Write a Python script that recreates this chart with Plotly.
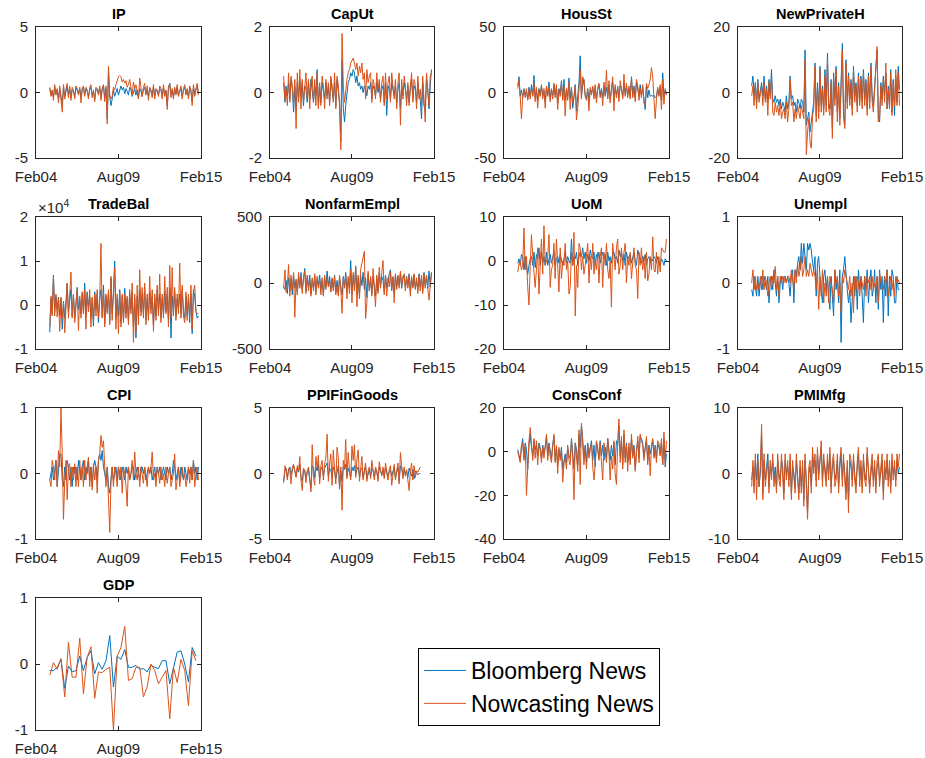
import pandas as pd
import plotly.graph_objects as go

# ---------------- data ----------------
panel_names = ["IP", "CapUt", "HousSt", "NewPrivateH", "TradeBal", "NonfarmEmpl",
               "UoM", "Unempl", "CPI", "PPIFinGoods", "ConsConf", "PMIMfg", "GDP"]
series_names = ["Bloomberg News", "Nowcasting News"]
x_tick_dates = ["2004-02-01", "2009-08-01", "2015-02-01"]
x_tick_labels = ["Feb04", "Aug09", "Feb15"]

IP_bloomberg = [0.3,-0.2,0.1,-0.3,0.4,-0.1,0.2,-0.5,0.3,-0.2,
 -0.9,0.4,-0.3,0.1,0.5,-0.2,0.3,-0.4,0.2,0.1,
 -0.3,0.4,0.2,-0.1,0.3,-0.4,0.2,0.4,-0.2,0.3,
 0.1,-0.3,0.2,0.4,-0.2,0.1,-0.5,0.3,0.2,-0.1,
 0.4,-0.3,0.2,0.5,-0.4,0.3,-2.0,1.6,-0.4,-1.0,
 -0.5,0.2,-0.3,0.1,0.3,-0.2,0.3,0.5,0.2,0.4,
 -0.1,0.3,0.1,-0.2,0.4,0.2,-0.3,0.1,0.3,-0.2,
 0.2,-0.4,0.3,0.1,-0.3,0.2,0.4,-0.1,0.2,-0.3,
 0.3,0.1,-0.2,0.4,-0.3,0.2,0.1,-0.2,0.3,0.2,
 -0.3,0.4,-0.2,0.1,-1.0,0.3,0.7,-0.2,0.2,-0.3,
 0.3,-0.1,0.4,-0.2,0.1,0.3,-0.3,0.2,0.4,-0.1,
 0.2,-0.3,0.3,0.1,-0.7,0.4,-0.2,0.3,0.5,-0.1]
IP_nowcast = [0.4,-0.3,0.2,-0.6,0.6,-0.2,0.3,-0.8,0.5,-0.4,
 -1.5,0.6,-0.5,0.3,0.7,-0.4,0.5,-0.6,0.4,0.2,
 -0.5,0.5,0.3,-0.2,0.4,-0.8,0.3,0.5,-0.3,0.4,
 0.2,-0.5,0.4,0.6,-0.4,0.2,-0.7,0.4,0.3,-0.2,
 0.5,-0.6,0.3,0.6,-0.7,0.5,-2.4,2.0,-0.2,-0.5,
 -0.3,0.4,0.2,0.6,0.9,1.2,1.3,1.2,0.8,1.0,
 0.7,0.9,0.4,0.6,1.0,0.5,-0.2,0.8,0.3,0.6,
 0.1,-0.5,1.1,0.2,-0.3,0.4,0.7,-0.2,0.5,-0.6,
 0.4,0.2,-0.4,0.6,-0.5,0.3,0.2,-0.3,0.5,0.3,
 -0.5,0.6,-0.3,0.2,-1.3,0.5,0.6,-0.4,0.3,-0.5,
 0.4,-0.2,0.6,-0.3,0.2,0.5,-0.5,0.3,0.6,-0.2,
 0.3,-0.5,0.5,0.2,-1.0,0.6,-0.3,0.4,0.7,-0.2]

CapUt_bloomberg = [0.3,-0.3,0.2,-0.1,0.3,-0.2,0.4,0.1,-0.6,0.2,
 -0.5,0.3,-0.2,0.4,-0.1,0.3,-0.4,0.2,0.1,-0.3,
 0.3,-0.2,0.4,0.1,-0.3,0.2,-0.1,0.7,-0.4,0.2,
 -0.3,0.3,0.1,-0.2,0.3,-0.1,0.2,-0.3,0.4,0.1,
 -0.2,0.3,-0.4,0.4,0.1,-0.3,-1.5,1.0,-0.5,-0.9,
 -0.4,0.1,0.3,0.4,0.6,0.5,0.7,0.6,0.3,0.5,
 0.2,0.3,0.1,0.2,0.0,0.2,0.1,-0.1,0.2,0.1,
 0.3,-0.2,0.2,0.1,-0.1,0.3,0.0,0.2,-0.2,0.1,
 0.2,-0.3,0.3,-0.7,0.2,0.1,-0.2,0.3,0.1,-0.1,
 0.2,-0.3,0.1,0.3,-0.5,0.2,-0.1,0.3,0.1,-0.2,
 0.2,-0.3,0.1,0.4,-0.2,0.2,0.1,-0.3,0.3,-0.1,
 -0.2,-0.8,0.3,-0.4,-0.5,0.4,0.1,-0.5,0.2,0.7]
CapUt_nowcast = [0.5,-0.2,0.1,-0.4,0.6,-0.3,0.5,0.2,-0.3,0.4,
 -1.1,0.6,-0.3,0.7,-0.5,0.4,-0.3,0.3,0.6,-0.2,
 0.4,-0.5,0.3,0.5,-0.3,0.4,-0.4,0.6,-0.5,0.3,
 -0.4,0.5,0.2,-0.5,0.4,-0.2,0.3,-0.4,0.5,0.2,
 -0.3,0.6,-0.5,0.5,0.2,-0.4,-1.75,1.8,0.2,-0.3,
 0.1,0.4,0.6,0.7,0.9,1.0,1.05,0.9,0.7,0.9,
 0.5,0.8,0.6,0.9,0.4,0.6,-0.2,0.7,0.3,0.5,
 0.6,-0.3,0.4,0.2,-0.2,0.6,0.1,0.4,-0.3,0.3,
 0.5,-0.4,0.6,-0.2,0.3,0.5,-0.3,0.6,0.2,-0.2,
 0.4,-0.5,0.3,0.6,-1.0,0.4,-0.2,0.5,0.2,-0.4,
 0.3,-0.4,0.2,0.6,-0.3,0.4,0.2,-0.5,0.5,-0.2,
 0.1,-0.4,0.5,-0.2,-0.9,0.6,0.2,-0.4,0.5,0.6]

HousSt_bloomberg = [5,12,-3,2,-4,3,-2,1,-5,4,
 -3,6,-2,13,-4,2,-6,3,-2,5,
 -3,1,-7,4,-2,8,-5,2,-3,6,
 -2,4,-8,3,-1,9,-4,10,-6,2,
 -3,11,-5,4,-12,-2,6,-14,-5,8,
 28,-3,5,10,-2,-4,3,-6,2,0,
 3,-3,4,-5,2,6,-2,3,-4,5,
 -2,4,-3,6,-5,2,8,-3,4,-2,
 3,-4,5,2,-3,6,-1,4,-2,3,
 -3,12,-2,5,-4,8,3,-3,6,-2,
 4,-6,-13,5,-4,2,-3,-2,-3,-2,
 -4,-3,3,-2,4,-6,15,-3,2,-1]
HousSt_nowcast = [3,9,-2,-20,-3,2,-4,3,-6,2,
 -5,4,-3,7,-7,4,-12,2,-3,6,
 -5,3,-12,5,-3,4,-7,3,-5,7,
 -4,6,-13,2,-3,7,-6,5,-18,3,
 -6,8,-13,3,-8,-4,5,-21,-12,10,
 17,-5,12,9,-3,-6,2,-14,4,-2,
 5,-5,6,-8,3,7,-4,2,-10,8,
 -3,17,-5,9,-8,3,12,-14,6,-4,
 5,-7,9,3,-5,14,-3,7,-4,5,
 -5,11,-4,3,-7,10,5,-6,3,-4,
 6,-8,-10,7,3,6,10,19,12,-5,
 -20,-6,4,-3,6,-13,10,-9,3,-2]

NewPrivateH_bloomberg = [2,5,-1,3,-3,4,-2,1,3,-1,
 5,-2,2,-3,4,-1,7,-2,-3,-1,
 -3,-2,-4,-2,-5,-3,-4,-6,-1,-5,
 -3,5,-2,-1,-4,-3,-6,-2,-3,-5,
 -2,-3,-6,13,-10,-8,-6,-12,-9,-5,
 -3,9,-7,3,-6,8,-4,2,-5,7,
 -4,12,-3,-5,4,-11,6,-2,8,-6,
 3,-8,5,15,-6,-10,10,-3,6,-2,
 4,-5,8,-1,3,-4,6,-2,5,-3,
 7,-2,4,-5,6,-3,9,-1,-4,2,
 6,13,-8,-9,3,-2,5,-1,6,-5,
 2,-4,7,-6,4,-7,5,-3,8,1]
NewPrivateH_nowcast = [-1,2,-4,3,-5,3,-3,0,2,-4,
 3,-3,1,-7,3,-2,5,-6,-7,-3,
 -6,-4,-7,-3,-8,-6,-5,-8,-3,-9,
 -5,4,-4,-3,-9,-5,-8,-4,-6,-8,
 -4,-6,-8,10,-19,-12,-8,-15,-17,-7,
 -5,8,-9,2,-8,7,-6,1,-7,5,
 -6,10,-5,-7,3,-14,5,-4,7,-9,
 2,-10,4,13,-7,-11,9,-5,5,-4,
 3,-7,7,-3,2,-6,5,-4,4,-5,
 6,-4,3,-7,5,-5,8,-3,-6,1,
 5,14,-9,-8,2,-4,4,-3,9,-5,
 1,-5,6,-7,3,-4,7,-4,6,-4]

TradeBal_bloomberg = [-6200,1500,-2000,6800,-1500,2000,-1000,1800,-2500,1500,
 -5500,800,-3000,2500,4800,-1500,1000,3500,-2500,2200,
 -3000,1800,4000,-1000,1500,-2000,2500,-1500,5000,-2000,
 3000,-500,2000,-3000,1500,-4800,3000,-1000,2500,-4000,
 1500,3500,-2500,4500,-4200,2000,-1500,3000,-3500,6000,
 -2000,2500,10000,-3000,1500,-2500,3500,-4000,2000,-3500,
 3800,-2000,1500,-3500,2500,-1000,3000,-5000,1500,-7500,
 2000,-3000,3500,-1500,2500,-2000,4000,-3500,1500,-2500,
 3000,-1000,2000,-4500,1800,-2500,3500,-1500,2500,-3000,
 1500,-2000,3000,-1500,2500,-3500,4000,-7500,2000,-1500,
 3000,-2500,1500,-1000,2500,-2000,3500,-1500,-3000,2000,
 -2500,1500,-4000,2500,-6500,3500,2000,-1500,-3000,-2500]
TradeBal_nowcast = [-5000,2000,-2500,6500,-2500,2500,-2700,1500,-6000,1800,
 -3000,500,-6300,2000,5000,-3000,1500,7500,-3000,2500,
 -4000,1000,3500,-5800,2000,-3000,3000,-2000,3500,-5500,
 2500,-1500,3500,-5000,1800,-4000,2500,-2500,3500,-3000,
 1000,14000,-3000,3000,-5000,2500,-2000,3500,-4500,6500,
 -3500,3000,8500,-5500,2500,-6500,3000,-5000,2500,-4000,
 2500,-3000,2000,-4500,3500,-2000,5000,-8500,2500,-6000,
 4500,-4500,8000,-2500,4000,-3000,5000,-4500,2500,-3500,
 6500,-2000,3500,-6000,2500,-3500,4500,-2500,7000,-4000,
 2500,-3000,6500,-2000,4000,-5000,9000,-3000,8500,-2500,
 4000,-3500,2500,-2000,9500,-3000,4500,-2500,-4000,3000,
 -3500,2500,-3000,4500,-5500,3000,4500,-1500,-2000,-2000]

NonfarmEmpl_bloomberg = [-30,-50,20,-80,40,-60,30,-90,60,-40,
 20,-70,50,-20,80,-50,30,110,-60,40,
 -30,60,-80,20,-40,50,-70,30,-20,60,
 -50,20,-90,40,-30,90,-20,50,-60,30,
 -40,60,-70,20,-80,40,-30,-90,50,-20,
 80,-60,30,-40,170,-80,60,-30,120,-70,
 40,-90,60,-20,80,-50,40,-110,70,-60,
 30,-80,50,-40,-100,40,-60,80,-30,50,
 20,-70,60,-40,30,70,100,-50,40,-80,
 60,-30,50,-20,80,-40,30,60,-30,50,
 -20,70,-60,40,-30,60,-40,20,-50,70,
 -30,40,-60,80,-20,50,-40,90,-30,80]
NonfarmEmpl_nowcast = [-40,100,-70,-20,140,-100,60,-50,80,-260,
 30,-90,80,-40,50,-80,40,90,-80,60,
 -60,30,-100,40,-60,70,-90,50,-40,30,
 -90,40,-100,60,-50,40,-30,20,-70,40,
 -60,50,-90,-20,-100,60,-50,-230,40,-40,
 60,-120,50,-80,100,-150,80,-60,130,-180,
 60,-120,100,150,200,240,-270,-150,90,-60,
 50,-100,110,-70,-180,60,-80,120,-40,80,
 170,-90,60,-100,40,-30,80,-60,50,-150,
 70,-50,60,-40,90,-30,50,70,-60,40,
 -40,60,-100,50,-40,70,-50,40,-80,60,
 -60,60,-80,70,-40,60,-50,-130,-20,80]

UoM_bloomberg = [-0.5,0.5,-1,1.5,1,-2,1,-1.5,-3,-1,
 0.5,1,-1,2,-1.5,1.5,0.5,3,-1,2,
 -0.5,1,-1,2,-1,0.5,1.5,-0.5,1,2,
 -1,0.5,1,-0.5,1.5,0,-1,0.5,2,-0.5,
 1,0,-0.5,5,-1,1,0.5,2,-1,1,
 2,1,3,0.5,2,-0.5,1.5,0,2.5,1,
 0.5,2,-1,1.5,0.5,2,-0.5,1,2,0.5,
 1.5,-1,2,0,1,-0.5,1.5,2,0.5,1,
 -0.5,2.5,1,2,0,1.5,-1,2,0.5,1,
 1.5,-0.5,1,2,0,-1,2.5,1,0.5,-0.5,
 1,0,1.5,-1,0.5,1,-0.5,0.5,0,1,
 0.5,-0.5,1,0,-1,0.5,0,-1,0.5,0]
UoM_nowcast = [-2.5,-0.5,0,-2,-1,7.5,-2,1,-6,-10,
 -1,6,1,-3,-6,-2,3,-7.5,0,5,
 -3,8,-1,0,1,6,-6,-2,-1,4,
 -4,5,-1,-7,3,-4,0,-1,4,-2,
 0,-7.5,-6,2,-1,6.5,-12.5,-1,-6,4,
 3,-2,1,-3,-1,2,4,-5,1,-2,
 4,-3,0,-2,2,-5,1,3,-6,2,
 -1,4,-2,-4,0,-10.5,4,1,-2,3,
 5,-3,-1,3,-2,2,4,-5,1,-1,
 2,-4,1,3,-1,-2,-8.5,2,-1,3,
 -2,1,-4,2,-4.5,-3,1,-2,5.5,-2,
 -2.5,2,-3,1,-2.5,3,2.5,2,2,5]

Unempl_bloomberg = [-0.1,-0.2,0.1,-0.1,-0.2,0.1,-0.2,0,0.1,-0.1,
 0.1,0,-0.1,0.1,-0.3,0,0.1,-0.1,0.2,0,
 -0.2,0.1,-0.3,0,0.1,-0.1,0.1,0.1,0,0.1,
 0,-0.2,0.1,0.2,-0.3,0.2,0.1,0.3,0.4,0.2,
 0.6,0.3,0.6,0.4,0.2,0.6,0.5,0.6,0.5,0.3,
 0.2,0.4,-0.2,0.3,0.4,0.1,-0.1,-0.3,0.1,0.2,
 -0.1,0.1,-0.2,-0.4,0.1,-0.2,-0.5,0.2,-0.1,0.1,
 -0.3,0.2,-0.9,0.1,0.2,0.4,0.1,-0.1,-0.3,-0.1,
 -0.6,-0.2,0.1,-0.2,0.1,-0.4,0.2,-0.1,0.1,-0.2,
 -0.6,0.1,-0.1,0.2,-0.3,0,0.2,-0.2,-0.1,0.2,
 -0.3,0.1,-0.4,0.2,-0.1,0.1,-0.6,0.1,-0.2,0.2,
 -0.5,0.1,-0.2,0.2,0.1,-0.3,-0.3,0.1,-0.1,-0.1]
Unempl_nowcast = [0,0.2,-0.1,0.1,-0.1,0,-0.1,0.1,-0.1,0.2,
 -0.1,0.1,0,-0.2,0,0.1,-0.1,0.1,0,0.25,
 -0.1,0.1,-0.2,0.1,0,0.1,0,0.1,0,0.1,
 0.1,0,0.2,0,-0.1,0.2,0,0.3,0.1,0.2,
 0.4,0.1,0.2,0.4,0.1,0.2,0.1,0.3,0.2,0.1,
 0.2,0.1,-0.1,0.2,-0.4,0.1,-0.2,0.2,-0.3,0,
 -0.2,0.1,-0.3,0.1,0,-0.1,-0.3,0.2,0,0.1,
 -0.2,0,-0.45,0.1,0,0.2,0.1,0,-0.1,0.1,
 -0.2,0,-0.45,0.1,-0.1,0.1,0,-0.2,0.1,0,
 -0.1,0.1,-0.2,0.1,0,0.1,-0.1,0.1,-0.1,0,
 -0.1,0.1,-0.3,0.15,0,-0.1,-0.1,0.1,0,0.2,
 -0.2,0,0.1,-0.1,0.05,-0.2,0.1,0,0.05,0]

CPI_bloomberg = [-0.1,0,0.1,-0.1,0.1,0.2,-0.2,0.1,0.3,0.3,
 -0.1,-0.2,0.1,-0.1,0.2,0.1,-0.1,0.1,-0.2,0.1,
 0,0.1,-0.1,0.2,0,-0.1,0.1,0.2,-0.1,0.1,
 0,0.2,-0.1,0.1,-0.2,0.1,0.2,0.1,-0.1,0.2,
 0.3,0.2,0.35,0.1,0,-0.1,0.1,-0.2,-0.3,-0.1,
 0.1,-0.1,0,0.1,-0.1,0.1,0,-0.1,0.1,0,
 -0.1,0.1,0,0.1,-0.1,0,0.1,0.1,-0.1,0,
 0.1,0,-0.1,0.1,0.1,0,0.1,-0.1,0,0.1,
 0,0.1,-0.1,0,0.1,-0.1,0.1,0,0.1,-0.1,
 0,0.1,0,-0.1,0.1,0,0.1,-0.1,0,0.2,
 0.1,-0.1,0,0.1,-0.1,0.1,0,-0.1,0.1,0,
 -0.1,0.1,0,0.1,-0.1,0.2,0,0.1,-0.1,0.1]
CPI_nowcast = [-0.1,-0.2,0.2,0.1,-0.1,0.2,-0.2,0.35,0.1,1.0,
 0.3,-0.7,-0.1,0.2,-0.4,0.1,0.15,-0.2,0.1,-0.1,
 0.15,-0.2,0.1,-0.2,0.2,-0.1,0.1,-0.2,0.2,-0.1,
 0.1,0.25,-0.2,0.1,-0.25,0.15,-0.1,0.1,-0.3,0.2,
 0.3,0.58,0.4,0.5,0.1,-0.2,0.1,-0.3,-0.9,-0.1,
 0.1,-0.2,0.1,0,-0.2,0.1,-0.1,0.1,-0.3,0.1,
 0,-0.2,-0.5,0.1,-0.1,0,0.2,-0.1,0.33,0,
 -0.1,0.1,-0.2,0.1,0,-0.15,0.1,-0.1,-0.2,0.1,
 0,0.1,0.33,-0.1,0,-0.2,0.1,0,-0.15,0.1,
 -0.1,0,-0.2,0.1,-0.15,0,0.1,-0.2,-0.1,0,
 0.3,-0.25,-0.1,0.1,-0.2,0,0.1,-0.1,0,-0.2,
 -0.1,0.1,-0.15,0.1,-0.1,0.2,-0.2,0,0.1,-0.1]

PPIFinGoods_bloomberg = [-0.6,0.2,0.4,-0.3,0.2,0.5,-0.1,0.3,0.6,0.2,
 -0.2,0.4,0.1,0.7,-0.3,-0.6,0.3,0.2,-0.4,0.1,
 0.3,-0.5,-1.1,0.6,0.4,-0.3,0.5,0.2,0.7,-0.4,
 0.3,0.5,-0.2,0.4,0.6,0.8,-0.2,0.4,0.3,-0.3,
 0.5,0.2,-0.4,0.3,0.6,-1.1,0.2,-0.6,0.5,0.3,
 0.7,-0.2,0.4,0.1,-0.3,0.5,0.2,0.6,-0.1,0.3,
 0.5,-0.2,0.3,0.4,-0.3,0.2,0.5,-0.4,0.1,0.3,
 -0.2,0.4,0.2,-0.3,0.3,0.1,-0.4,0.5,0.2,-0.1,
 0.3,-0.2,0.4,0.1,-0.3,0.2,0.3,-0.2,0.1,0.5,
 -0.3,0.2,0.5,-0.6,0.6,0.4,-0.2,0.3,-0.1,0.2,
 -0.3,0.4,0.1,-0.2,0.3,-0.4,0.2,0.1,-0.1,0.0,
 0.0]
PPIFinGoods_nowcast = [-0.7,0.6,0.3,-0.5,0.4,0.3,-0.8,0.5,0.7,0.1,
 -0.3,0.6,0.2,1.3,-0.5,-1.3,0.4,0.3,-0.7,0.2,
 0.5,-0.4,-1.4,2.2,-0.3,-0.9,1.3,0.4,1.4,-0.8,
 0.6,1.0,-0.5,0.7,1.2,3.0,-0.6,0.8,1.5,-0.9,
 1.8,0.3,-0.8,2.0,1.2,-1.2,0.5,-2.8,1.0,0.4,
 2.6,-0.4,1.6,0.3,-0.5,2.1,1.0,2.2,-0.3,1.1,
 1.8,-0.6,0.4,1.3,-0.5,0.3,0.8,-0.6,0.2,0.5,
 -0.4,1.0,0.4,-0.5,0.5,0.2,-0.6,0.9,0.3,-0.2,
 0.5,-0.4,0.8,0.2,-0.5,0.3,0.6,-0.9,0.2,0.7,
 -0.5,0.3,0.8,-0.8,1.6,0.6,-0.4,0.5,-0.2,0.3,
 -0.5,-1.3,0.2,0.8,-0.5,0.6,-0.3,0.2,0.1,0.3,
 0.5]

ConsConf_bloomberg = [1,-1,-4,2,6,-3,4,1,-8,3,
 8,2,-2,5,1,3,-2,4,2,-3,
 3,-1,2,7,-2,4,1,-3,3,7,
 -4,2,-6,1,-3,2,-8,-3,-1,-5,
 2,-2,-3,6,-1,-8,4,1,-6,8,
 2,12,6,-3,3,-5,4,-1,2,5,
 -4,3,-7,4,1,-3,5,-2,3,-4,
 2,-3,6,1,-4,3,-2,4,-6,5,
 3,12,-2,5,-6,8,-3,4,-5,2,
 -4,6,-2,3,-8,1,5,-3,7,6,
 4,-2,2,5,-4,3,-1,2,5,-2,
 3,-3,4,2,-1,4,-6,6,-7,-1]
ConsConf_nowcast = [0,-2,-5,3,4,-4,3,-20,-2,5,
 11,3,-4,6,-3,5,-6,3,1,-5,
 2,-3,4,8,-4,3,-2,-5,2,8,
 -5,3,-10,2,-4,1,-14,-5,-3,-8,
 3,-4,-6,5,-3,-22,4,-2,-9,10,
 -15,13,5,-6,2,-8,3,-3,1,4,
 -7,-13,-6,5,2,-4,4,-4,-13,4,
 -2,-5,6,-1,-13,-2,-8,5,-10,-15,
 4,15,-5,7,-8,10,-5,3,-9,4,
 -6,8,-3,2,-9,0,7,-5,8,5,
 3,-4,1,7,-6,2,-11,3,6,-3,
 2,-5,5,4,-2,6,-6,9,-5,5]

PMIMfg_bloomberg = [-1,1,-2,2,-1,3,-2,0,6,-3,
 2,-1,1,3,-2,1,0,2,-1,1,
 -2,2,0,-1,2,1,-3,2,0,1,
 -1,2,-3,1,0,-2,2,-1,-3,1,
 -2,1,-4,2,-1,-6,0,1,-2,3,
 1,2,-1,3,0,2,4,-1,2,1,
 -1,2,0,3,-2,1,2,-1,0,2,
 -2,1,3,-1,2,0,-3,1,-4,2,
 1,-1,2,0,-2,1,3,-1,1,-2,
 2,0,-1,3,1,-2,0,2,-1,1,
 -2,1,2,-1,0,2,-3,1,0,2,
 -1,1,-2,2,0,1,-1,2,0,1]
PMIMfg_nowcast = [-2,2,-3,3,-4,2,-2,1,7.5,-4,
 3,-2,0,2,-3,2,-1,3,-2,0,
 -3,3,-1,-2,3,0,-4,3,-1,2,
 -2,3,-4,2,-1,-3,3,-2,-4,2,
 -3,2,-5,3,-2,-7,1,2,-3,4,
 0,3,-2,4,-1,3,5,-2,3,0,
 -2,3,-1,4,-3,2,3,-2,-1,3,
 -3,2,4,-2,3,-1,-4,2,-6,3,
 2,-2,3,-1,-3,2,4,-2,2,-3,
 3,-1,-2,4,0,-3,1,3,-2,2,
 -3,2,3,-2,1,3,-4,2,-1,3,
 -2,2,-3,3,-1,2,-2,3,1,3]

GDP_bloomberg = [-0.1,-0.1,-0.05,0.07,-0.37,-0.03,-0.12,-0.1,0.12,-0.1,
 0.1,0.2,-0.15,0.02,-0.08,0.05,0.43,-0.35,0.12,0.07,
 0.22,-0.05,-0.05,-0.02,-0.08,-0.07,-0.12,-0.02,-0.05,-0.07,
 0.05,0.05,-0.3,-0.05,0.18,0.2,0.0,-0.27,0.25,0.12]
GDP_nowcast = [-0.17,0.02,-0.08,0.08,-0.5,0.33,-0.2,-0.2,0.39,-0.45,
 0.1,0.26,-0.52,-0.12,-0.13,-0.08,-0.05,-1.0,0.12,0.25,
 0.57,-0.25,-0.22,-0.05,-0.05,-0.5,-0.35,0.0,-0.1,-0.3,
 -0.2,-0.1,-0.83,-0.05,-0.28,0.07,-0.1,-0.63,0.2,0.05]

bloomberg = [IP_bloomberg, CapUt_bloomberg, HousSt_bloomberg, NewPrivateH_bloomberg,
             TradeBal_bloomberg, NonfarmEmpl_bloomberg, UoM_bloomberg, Unempl_bloomberg,
             CPI_bloomberg, PPIFinGoods_bloomberg, ConsConf_bloomberg, PMIMfg_bloomberg,
             GDP_bloomberg]
nowcast = [IP_nowcast, CapUt_nowcast, HousSt_nowcast, NewPrivateH_nowcast,
           TradeBal_nowcast, NonfarmEmpl_nowcast, UoM_nowcast, Unempl_nowcast,
           CPI_nowcast, PPIFinGoods_nowcast, ConsConf_nowcast, PMIMfg_nowcast,
           GDP_nowcast]
y_ticks = [[-5, 0, 5], [-2, 0, 2], [-50, 0, 50], [-20, 0, 20],
           [-10000, 0, 10000, 20000], [-500, 0, 500], [-20, -10, 0, 10], [-1, 0, 1],
           [-1, 0, 1], [-5, 0, 5], [-40, -20, 0, 20], [-10, 0, 10], [-1, 0, 1]]
y_tick_labels = [["-5", "0", "5"], ["-2", "0", "2"], ["-50", "0", "50"], ["-20", "0", "20"],
                 ["-1", "0", "1", "2"], ["-500", "0", "500"], ["-20", "-10", "0", "10"],
                 ["-1", "0", "1"], ["-1", "0", "1"], ["-5", "0", "5"],
                 ["-40", "-20", "0", "20"], ["-10", "0", "10"], ["-1", "0", "1"]]

# ---------------- layout ----------------
W, H = 925, 758
col_px = [(36, 201), (270, 434), (504, 669), (738, 902)]
row_px = [(27, 158), (217, 349), (408, 539), (598, 730)]
BLUE = "#0072BD"
ORANGE = "#D95319"
AX = "#262626"
FONT = "Liberation Sans, Arial, Helvetica, sans-serif"

fig = go.Figure()
layout = dict(width=W, height=H, margin=dict(l=0, r=0, t=0, b=0, autoexpand=False),
              paper_bgcolor="white", plot_bgcolor="white",
              font=dict(family=FONT, size=14, color=AX), showlegend=True)
annotations = []

for k, name in enumerate(panel_names):
    r, c = divmod(k, 4)
    x0, x1 = col_px[c]
    yt, yb = row_px[r]
    sfx = "" if k == 0 else str(k + 1)
    freq = "3MS" if name == "GDP" else "MS"
    start = "2005-01-01"
    b = bloomberg[k]
    n = nowcast[k]
    xb = pd.date_range(start, periods=len(b), freq=freq)
    xn = pd.date_range(start, periods=len(n), freq=freq)
    fig.add_trace(go.Scatter(x=xb, y=b, mode="lines", name=series_names[0],
                             line=dict(color=BLUE, width=1), showlegend=(k == 0),
                             xaxis="x" + sfx, yaxis="y" + sfx))
    fig.add_trace(go.Scatter(x=xn, y=n, mode="lines", name=series_names[1],
                             line=dict(color=ORANGE, width=1), showlegend=(k == 0),
                             xaxis="x" + sfx, yaxis="y" + sfx))
    yt_vals = y_ticks[k]
    layout["xaxis" + sfx] = dict(
        domain=[x0 / W, x1 / W], anchor="y" + sfx, type="date",
        range=[x_tick_dates[0], x_tick_dates[-1]],
        tickvals=x_tick_dates, ticktext=x_tick_labels,
        ticks="inside", ticklen=4, tickcolor=AX, tickwidth=1,
        showline=True, linecolor=AX, linewidth=1, mirror="ticks",
        showgrid=False, zeroline=False, fixedrange=True, automargin=False,
        ticklabelstandoff=5,
        tickfont=dict(family=FONT, size=15, color=AX))
    layout["yaxis" + sfx] = dict(
        domain=[1 - yb / H, 1 - yt / H], anchor="x" + sfx,
        range=[yt_vals[0], yt_vals[-1]],
        tickvals=yt_vals, ticktext=y_tick_labels[k],
        ticks="inside", ticklen=4, tickcolor=AX, tickwidth=1,
        showline=True, linecolor=AX, linewidth=1, mirror="ticks",
        showgrid=False, zeroline=False, fixedrange=True, automargin=False,
        ticklabelstandoff=4,
        tickfont=dict(family=FONT, size=15, color=AX))
    annotations.append(dict(text="<b>" + name + "</b>", xref="paper", yref="paper",
                            x=(x0 + x1) / 2 / W, y=1 - yt / H, xanchor="center",
                            yanchor="bottom", yshift=3, showarrow=False,
                            font=dict(family=FONT, size=14.5, color="black")))
    if name == "TradeBal":
        annotations.append(dict(text="×10<sup>4</sup>", xref="paper", yref="paper",
                                x=x0 / W, y=1 - yt / H, xanchor="left",
                                yanchor="bottom", yshift=-1, showarrow=False,
                                font=dict(family=FONT, size=15, color=AX)))

layout["annotations"] = annotations
layout["legend"] = dict(x=418 / W, y=1 - 648 / H, xanchor="left", yanchor="top",
                        bordercolor="black", borderwidth=1, bgcolor="white",
                        font=dict(family=FONT, size=23, color="black"),
                        tracegroupgap=0, itemwidth=42)
fig.update_layout(**layout)
fig.write_html("out.html", config={"displayModeBar": False},
               post_script="document.body.style.margin='0';document.body.style.overflow='hidden';")
